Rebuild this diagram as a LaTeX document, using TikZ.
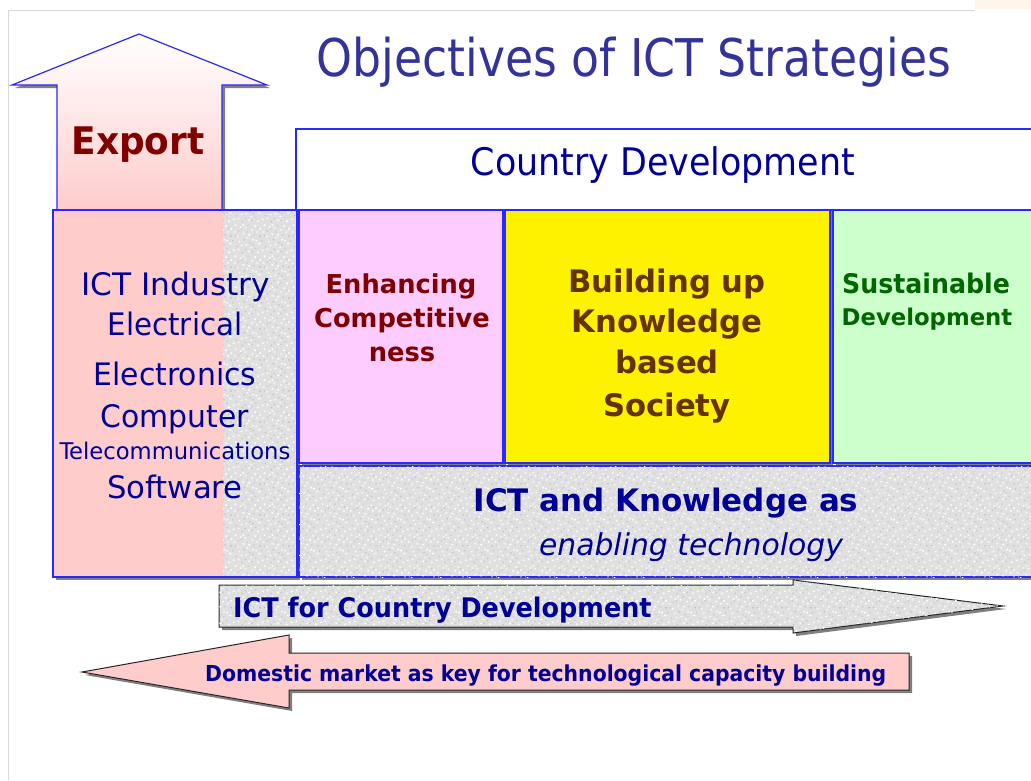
\documentclass[tikz,border=0pt]{standalone}
\usepackage{fontspec}
\setmainfont{DejaVu Sans Condensed}
\usetikzlibrary{shadows,patterns}
\definecolor{titleblue}{RGB}{51,51,153}
\definecolor{navy}{RGB}{0,0,153}
\definecolor{edgeblue}{RGB}{40,40,255}
\definecolor{darkred}{RGB}{128,0,0}
\definecolor{brownish}{RGB}{102,51,0}
\definecolor{dgreen}{RGB}{0,102,0}
\definecolor{pinkfill}{RGB}{255,204,204}
\definecolor{violetfill}{RGB}{255,204,255}
\definecolor{greenfill}{RGB}{204,255,204}
\definecolor{texgray}{RGB}{224,224,224}
\newcommand\FS[1]{\fontsize{#1}{#1}\selectfont}
\newcommand\SX[2]{\scalebox{#1}[1]{#2}}
\pgfdeclarepatterninherentlycolored{speckle}{\pgfpointorigin}{\pgfpoint{29pt}{31pt}}{\pgfpoint{29pt}{31pt}}{%
  \pgfsetfillcolor{white}%
  \foreach \a/\b in {1/3,5/17,9/8,13/26,17/2,21/14,25/22,3/29,11/20,19/6,27/10,7/12,15/16,23/28,2/22,26/1,14/9,20/24,8/27,17/19,6/4,24/13,11/29,28/25}{%
    \pgfpathrectangle{\pgfpoint{\a pt}{\b pt}}{\pgfpoint{1.6pt}{1.4pt}}}%
  \pgfusepath{fill}%
  \pgfsetfillcolor{black!24}%
  \foreach \a/\b in {4/7,10/1,12/14,18/11,24/5,28/18,6/23,16/29,22/19,0/13,20/2,9/25,26/26,13/4,3/18,15/22,21/9}{%
    \pgfpathrectangle{\pgfpoint{\a pt}{\b pt}}{\pgfpoint{1.2pt}{1.2pt}}}%
  \pgfusepath{fill}%
}
\begin{document}
\begin{tikzpicture}[x=1pt,y=-1pt,
  shadowed/.style={drop shadow={shadow xshift=3pt,shadow yshift=-3pt,fill=black!50,opacity=1}},
  textured/.style={fill=texgray,postaction={pattern=speckle}},
  boxline/.style={draw=edgeblue,line width=1.2pt},
  arrowline/.style={draw=black!85,line width=1pt},
  txt/.style={inner sep=0pt,anchor=base},
  ltxt/.style={inner sep=0pt,anchor=base west}]
\useasboundingbox (0,0) rectangle (1031,780);
\clip (0,0) rectangle (1031,780);
\fill[white] (0,0) rectangle (1031,780);
\draw[black!15,line width=0.8pt] (8,780) -- (8,10) -- (975,10);
\fill[orange!8] (975,0) rectangle (1031,9);

% title
\node[txt,text=titleblue] (title) at (634,76) {\FS{52}\SX{0.977}{Objectives of ICT Strategies}};

% Export arrow
\path[shadowed,top color=white,bottom color=pinkfill,boxline]
  (139,34) -- (267,85) -- (222,85) -- (222,210) -- (57,210) -- (57,85) -- (12,85) -- cycle;
\node[txt,text=darkred] (export) at (138,154) {\FS{38}\bfseries\SX{1.05}{Export}};

% left industry box
\path[shadowed,textured] (53,210) rectangle (297,577);
\fill[pinkfill] (53,210) rectangle (223,577);
\draw[boxline] (53,210) rectangle (297,577);
\node[txt,text=navy] (ind1) at (176,295) {\FS{31}\SX{1.12}{ICT Industry}};
\node[txt,text=navy] (ind2) at (175,335) {\FS{31}\SX{1.05}{Electrical}};
\node[txt,text=navy] (ind3) at (175,385) {\FS{31}\SX{1.07}{Electronics}};
\node[txt,text=navy] (ind4) at (175,427) {\FS{31}\SX{1.07}{Computer}};
\node[txt,text=navy] (ind5) at (175,459) {\FS{23}\SX{1.095}{Telecommunications}};
\node[txt,text=navy] (ind6) at (175,498) {\FS{31}\SX{1.10}{Software}};

% Country development
\path[shadowed,fill=white,boxline] (296,129) rectangle (1040,210);
\node[txt,text=navy] (cd) at (663,175) {\FS{38}\SX{1.02}{Country Development}};

% three objective boxes
\path[shadowed,fill=violetfill,boxline] (299,210) rectangle (503,463);
\path[shadowed,fill=yellow,boxline] (505,210) rectangle (830,463);
\path[shadowed,fill=greenfill,boxline] (833,210) rectangle (1040,463);
\node[txt,text=darkred] (e1) at (401,293) {\FS{26}\bfseries\SX{1.10}{Enhancing}};
\node[txt,text=darkred] (e2) at (402,327) {\FS{26}\bfseries\SX{1.10}{Competitive}};
\node[txt,text=darkred] (e3) at (402,361) {\FS{26}\bfseries\SX{1.10}{ness}};
\node[txt,text=brownish] (b1) at (667,292) {\FS{31}\bfseries\SX{1.10}{Building up}};
\node[txt,text=brownish] (b2) at (667,332) {\FS{31}\bfseries\SX{1.10}{Knowledge}};
\node[txt,text=brownish] (b3) at (667,373) {\FS{31}\bfseries\SX{1.10}{based}};
\node[txt,text=brownish] (b4) at (667,416) {\FS{31}\bfseries\SX{1.10}{Society}};
\node[txt,text=dgreen] (s1) at (926,293) {\FS{27}\bfseries\SX{1.04}{Sustainable}};
\node[txt,text=dgreen] (s2) at (927,325) {\FS{23}\bfseries\SX{1.10}{Development}};

% enabling technology box
\path[shadowed,textured,boxline] (299,466) rectangle (1040,577);
\node[txt,text=navy] (k1) at (666,511) {\FS{31}\bfseries\SX{1.11}{ICT and Knowledge as}};
\node[txt,text=navy] (k2) at (691,555) {\FS{30}\itshape\SX{1.105}{enabling technology}};

% ICT for country development arrow
\path[shadowed,textured,arrowline]
  (219,585) -- (793,585) -- (793,580) -- (1003,606) -- (793,633) -- (793,627) -- (219,627) -- cycle;
\node[ltxt,text=navy] (ictarrow) at (233,617) {\FS{27}\bfseries\SX{1.05}{ICT for Country Development}};

% domestic market arrow
\path[shadowed,fill=pinkfill,arrowline]
  (82,672) -- (289,635) -- (289,653) -- (909,653) -- (909,690) -- (289,690) -- (289,708) -- cycle;
\node[ltxt,text=navy] (domestic) at (205,681) {\FS{22}\bfseries\SX{1.03}{Domestic market as key for technological capacity building}};
\end{tikzpicture}
\end{document}
